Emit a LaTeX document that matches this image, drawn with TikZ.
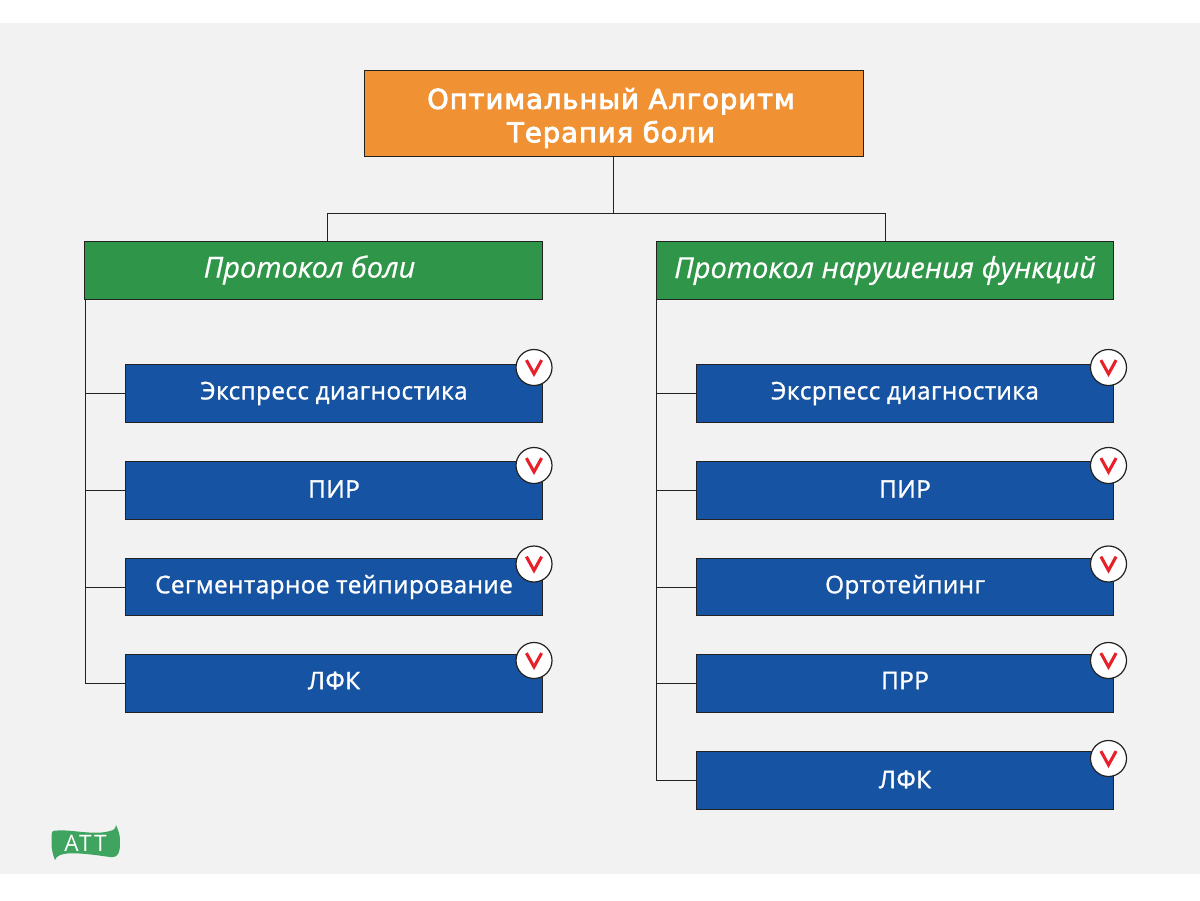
\documentclass[tikz,border=0pt]{standalone}
\usepackage{fontspec}
\setmainfont{Open Sans}
\newfontfamily\boxfont[LetterSpace=1.8,FakeBold=1.2]{Open Sans}
\newfontfamily\headfont[FakeBold=0.6]{Open Sans}
\newfontfamily\titlefont[LetterSpace=3.8,FakeBold=3.2]{DejaVu Sans}
\newfontfamily\logofont[LetterSpace=9]{Open Sans}
\definecolor{bgc}{HTML}{F2F2F2}
\definecolor{orangec}{HTML}{F09133}
\definecolor{greenc}{HTML}{2F9548}
\definecolor{bluec}{HTML}{1654A3}
\definecolor{linec}{HTML}{222222}
\definecolor{logoc}{HTML}{3FA45F}
\definecolor{checkc}{HTML}{E8202A}
\tikzset{
  x=0.75pt,y=-0.75pt,
  titlebox/.style={draw=linec,line width=0.75pt,outer sep=0pt,fill=orangec,minimum width=374.25pt,minimum height=64.5pt,inner sep=0pt},
  titletext/.style={text=white,inner sep=0pt,align=center,font=\titlefont\fontsize{20.5}{25}\selectfont},
  headbox/.style={draw=linec,line width=0.75pt,outer sep=0pt,fill=greenc,text=white,minimum height=43.5pt,inner sep=0pt,font=\headfont\itshape\fontsize{21.7}{24}\selectfont},
  itembox/.style={draw=linec,line width=0.75pt,outer sep=0pt,fill=bluec,text=white,minimum width=312.75pt,minimum height=43.25pt,inner sep=0pt,font=\boxfont\fontsize{18.2}{20}\selectfont},
  conn/.style={draw=linec,line width=0.75pt},
  mark circle/.style={circle,draw=linec,line width=0.9pt,fill=white,minimum size=27pt,inner sep=0pt},
  check/.style={draw=checkc,line width=2.3pt,line join=miter},
}
\newcommand{\itemrow}[4]{%
  \node[itembox] (#1) at (#2,#3) {#4};
}
\newcommand{\marker}[3]{%
  \node[mark circle] (#1) at (#2,#3) {};
  \draw[check] ([shift={(-7.6,-7.4)}]#1.center) -- ([shift={(0,6.4)}]#1.center) -- ([shift={(7.6,-7.4)}]#1.center);
}
\begin{document}
\begin{tikzpicture}
\useasboundingbox (0,0) rectangle (1200,900);
\fill[white] (0,0) rectangle (1200,900);
\fill[bgc] (0,23) rectangle (1200,874);

\node[titlebox] (top) at (613.5,113.5) {};
\node[titletext] (toptext) at (611,118) {Оптимальный Алгоритм\\Терапия боли};
\node[headbox,minimum width=343.5pt] (hl) at (313.5,270.5) {};
\node[text=white,inner sep=0pt,font=\headfont\itshape\fontsize{21.7}{24}\selectfont] (hltext) at (309.5,270) {Протокол боли};
\node[headbox,minimum width=342.75pt] (hr) at (885,270.5) {Протокол нарушения функций};

\coordinate (busmid) at (613.5,213.5);
\coordinate (lbus) at (327.5,213.5);
\coordinate (lbase) at (327.5,241.5);
\draw[conn] (top.south) -- (busmid);
\draw[conn] (lbase) -- (lbus) -- (busmid) -| (hr.north);

\itemrow{a1}{334}{393.5}{\raisebox{1pt}{Экспресс диагностика}}
\itemrow{a2}{334}{490.5}{\raisebox{2.2pt}{ПИР}}
\itemrow{a3}{334}{587}{\raisebox{1.5pt}{Сегментарное тейпирование}}
\itemrow{a4}{334}{683.5}{\raisebox{4.6pt}{ЛФК}}
\itemrow{b1}{905}{393.5}{\raisebox{1pt}{Экcрпесс диагностика}}
\itemrow{b2}{905}{490.5}{\raisebox{2.2pt}{ПИР}}
\itemrow{b3}{905}{587}{\raisebox{1.5pt}{Ортотейпинг}}
\itemrow{b4}{905}{683.5}{\raisebox{4.6pt}{ПРР}}
\itemrow{b5}{905}{780.5}{\raisebox{1.7pt}{ЛФК}}

\coordinate (lstem) at (85,299.5);
\coordinate (rstem) at (656.5,299.5);
\draw[conn] (lstem) |- (a4.west);
\draw[conn] (rstem) |- (b5.west);
\foreach \n in {a1,a2,a3} \draw[conn] (lstem |- \n.west) -- (\n.west);
\foreach \n in {b1,b2,b3,b4} \draw[conn] (rstem |- \n.west) -- (\n.west);

\marker{ma1}{534}{367.5}
\marker{ma2}{534}{465.5}
\marker{ma3}{534}{564}
\marker{ma4}{534}{660.5}
\marker{mb1}{1108.5}{367.5}
\marker{mb2}{1108.5}{465.5}
\marker{mb3}{1108.5}{564}
\marker{mb4}{1108.5}{660.5}
\marker{mb5}{1108.5}{758.5}

\fill[logoc] (53,831) .. controls (70,828) and (95,837) .. (113,830) .. controls (115,829) and (116,827) .. (116,825)
  .. controls (118,830) and (120,834) .. (120,840) .. controls (120,846) and (120,850) .. (118.5,853)
  .. controls (117,856.5) and (114,857.5) .. (110,857) .. controls (95,855) and (70,851) .. (60,855)
  .. controls (57,856) and (56,858) .. (55,860) .. controls (53,855) and (51.5,850) .. (51.5,842)
  .. controls (51.5,836) and (51.5,832) .. (53,831) -- cycle;
\node[text=white,font=\logofont\fontsize{17}{20}\selectfont,inner sep=0pt] (logo) at (85.5,843.5) {АТТ};
\end{tikzpicture}
\end{document}
